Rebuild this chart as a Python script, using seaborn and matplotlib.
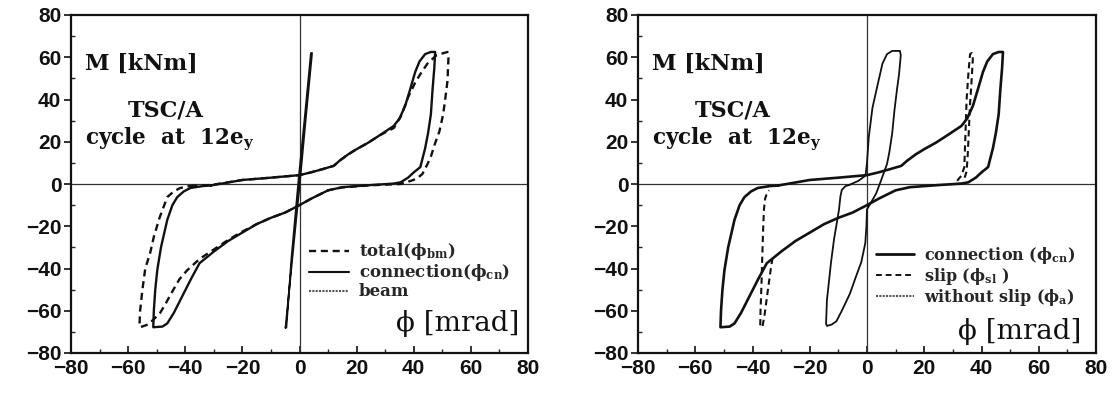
import numpy as np
import pandas as pd
import matplotlib
matplotlib.use("Agg")
import matplotlib.pyplot as plt
from matplotlib.lines import Line2D
import seaborn as sns

# ---- moment-rotation hysteresis, TSC/A, cycle at 12 e_y ----
# connection rotation phi_cn [mrad] vs moment M [kNm]
conn_phi = [-31, -20, -10, 0, 4, 8, 12, 14, 17, 20, 24, 28, 33, 35, 37, 39, 40.5, 42, 44, 46, 47.5,
            47.2, 46.6, 46, 45, 44, 42.3, 40, 38, 35.4, 33, 25, 15, 10, 4, 0, -5, -10, -15, -20,
            -25, -30, -35, -38, -41, -44, -46.3, -48, -51.2,
            -51, -50.5, -49.8, -48.5, -46.3, -44.5, -42.8, -40.5, -38.2, -34, -31]
conn_m = [-0.7, 1.9, 3.0, 4.2, 5.5, 7.0, 8.6, 11, 14, 16.5, 19.5, 23, 27.5, 31, 37, 46, 53, 58, 61.5, 62.5, 62.5,
          55, 45, 33, 24, 17, 8, 5.5, 3, 0.8, 0.2, -0.5, -1.5, -3, -7, -10, -13.5, -16, -19, -23,
          -27, -32, -37.5, -45, -53, -61, -66, -67.5, -67.8,
          -60, -50, -40.8, -30, -17, -10, -6.2, -3.5, -1.9, -1.0, -0.7]

# total beam-end rotation phi_bm
total_phi = [-38.2, -31, -20, -10, 0, 4, 8, 12, 14, 17, 20, 24, 28, 33, 35.5, 38, 40.5, 42.3, 44.8, 48, 51.8,
             52.2, 52, 51.8, 51, 50.3, 49, 47.4, 46, 44.8, 43, 41, 39.2, 35.4, 25, 15, 10, 4, 0, -5, -10,
             -15, -20, -25, -30, -35, -39.3, -42, -45, -47, -48.8, -51, -53, -55.8,
             -56, -55.8, -55, -54, -52.3, -51, -49, -46.3, -44, -41.8, -38.2]
total_m = [-0.9, -0.5, 1.9, 3.0, 4.2, 5.5, 7.0, 8.6, 11, 14, 16.5, 19.5, 23, 26.5, 32, 41, 48, 52, 57, 61, 62.5,
           61, 55, 48.7, 40, 33, 25, 19, 13, 9.4, 4.7, 2.5, 1.6, 0, -0.6, -1.6, -3, -7, -10, -13.5, -16,
           -19, -22.5, -26.5, -31, -35.5, -40.8, -45, -52, -57, -61, -64, -66.5, -67.8,
           -66, -60, -50, -40, -32.7, -25, -16, -6.2, -3.5, -1.9, -0.9]

# beam rotation
beam_phi = [-4.9, -2.5, 0.0, 2.2, 4.4, 4.0, 1.8, -0.4, -2.8, -4.6, -4.9]
beam_m = [-68, -35, -1, 31, 62, 62, 31, 1, -35, -68, -68]

# slip rotation phi_sl (two visible branches)
slip_phi = [31.5, 33, 34, 34.3, 34.8, 35.4, 36, 36.6, 37, 36.5, 36, 35.6, 35.2, 34.8, 34,
            -33, -33.8, -34.8, -35.8, -36.5, -37.3, -37.2, -36.8, -36.6, -36.3, -36, -35.6, -35, -34.2]
slip_m = [1.5, 4, 8, 20, 40, 52, 61.5, 62, 60, 48, 38, 26, 14, 6, 2.5,
          -35, -42, -52, -62, -67.5, -67.5, -60, -45, -35, -22, -12, -7, -4.5, -3]
slip_seg = [0] * 15 + [1] * 14

# rotation without slip phi_a
ws_phi = [-6.3, -3, -0.5, 0, 0.6, 1.9, 3.8, 5.4, 7, 8.8, 11.5,
          11.8, 11.2, 10.5, 9.6, 8.8, 7.8, 7, 5, 3.2, 1.3, 0, -0.2, -0.6, -2, -3.9, -6, -8.8, -10.7, -12.3, -14,
          -14.3, -14, -13.2, -12.6, -11.5, -10.5, -9.8, -9.3, -8.8, -7.5, -6.3]
ws_m = [-0.5, 1.5, 4, 10, 22, 36, 47.5, 57, 61.5, 63, 63,
        61, 52, 45, 35, 24, 15, 9.5, 2, -4.5, -9, -12, -20, -28, -37, -44, -52, -60, -65, -66.5, -67.2,
        -66, -55, -45, -37.4, -26, -18, -12.3, -6, -2.8, -1, -0.5]

ticks_major = list(range(-80, 81, 20))
ticks_minor = list(range(-80, 81, 10))

sns.set_style("ticks")
plt.rcParams["font.family"] = ["Liberation Sans", "DejaVu Sans"]
plt.rcParams["mathtext.fontset"] = "dejavuserif"
plt.rcParams["axes.linewidth"] = 1.6

SERIF = "DejaVu Serif"
INK = "#111111"

fig = plt.figure(figsize=(11.2, 3.96), dpi=100)
axL = fig.add_axes([71 / 1120, 1 - 353 / 396, 457 / 1120, 338 / 396])
axR = fig.add_axes([638 / 1120, 1 - 353 / 396, 458 / 1120, 338 / 396])


def curve(ax, phi, m, lw, ls="-", color=INK, seg=None):
    df = pd.DataFrame({"phi": phi, "M": m})
    df["seg"] = seg if seg is not None else 0
    sns.lineplot(data=df, x="phi", y="M", units="seg", estimator=None, sort=False,
                 ax=ax, color=color, lw=lw, linestyle=ls, legend=False)


def frame(ax):
    ax.set_xlim(-80, 80)
    ax.set_ylim(-80, 80)
    ax.axhline(0, color="#333333", lw=0.9, zorder=1)
    ax.axvline(0, color="#333333", lw=0.9, zorder=1)
    ax.set_xticks(ticks_major)
    ax.set_xticks(ticks_minor, minor=True)
    ax.set_yticks(ticks_major)
    ax.set_yticks(ticks_minor, minor=True)
    ax.tick_params(axis="x", which="major", direction="in", length=5, width=1.2,
                   labelsize=15, pad=4, colors=INK)
    ax.tick_params(axis="x", which="minor", direction="in", length=3, width=1.0)
    ax.tick_params(axis="y", which="major", direction="out", length=5, width=1.2,
                   labelsize=15, pad=2, colors=INK)
    ax.tick_params(axis="y", which="minor", direction="in", length=3, width=1.0)
    for lab in ax.get_xticklabels() + ax.get_yticklabels():
        lab.set_fontweight("bold")
    ax.set_xlabel("")
    ax.set_ylabel("")
    for s in ax.spines.values():
        s.set_color(INK)
    ax.text(-75, 57, "M [kNm]", family=SERIF, fontweight="bold", fontsize=16,
            va="center", ha="left", color=INK)
    ax.text(-47, 35, "TSC/A", family=SERIF, fontweight="bold", fontsize=16,
            va="center", ha="center", color=INK)
    ax.text(-75, 21, r"cycle  at  12e$_{\mathbf{y}}$", family=SERIF, fontweight="bold",
            fontsize=15.5, va="center", ha="left", color=INK)


# left panel: total, connection and beam rotations
curve(axL, total_phi, total_m, lw=1.7, ls=(0, (3, 2)))
curve(axL, conn_phi, conn_m, lw=1.7)
curve(axL, beam_phi, beam_m, lw=1.3)
frame(axL)
axL.text(77, -66, "ϕ [mrad]", family=SERIF, fontsize=20, ha="right", va="center", color=INK)

hL = [Line2D([], [], color=INK, lw=1.7, ls=(0, (3, 2))),
      Line2D([], [], color=INK, lw=1.5),
      Line2D([], [], color="#555555", lw=1.5, ls=(0, (1, 0.6)))]
lab_L = [r"total(ϕ$_{\mathbf{bm}}$)", r"connection(ϕ$_{\mathbf{cn}}$)", "beam"]
axL.legend(hL, lab_L, loc="upper left", bbox_to_anchor=(0.52, 0.33), frameon=False,
           prop={"family": SERIF, "weight": "bold", "size": 12},
           handlelength=2.4, handletextpad=0.6, labelspacing=0.0, borderpad=0, borderaxespad=0)

# right panel: connection split into slip and rotation without slip
curve(axR, conn_phi, conn_m, lw=1.9)
curve(axR, slip_phi, slip_m, lw=1.5, ls=(0, (3, 2)), seg=slip_seg)
curve(axR, ws_phi, ws_m, lw=1.3)
frame(axR)
axR.text(75, -70, "ϕ [mrad]", family=SERIF, fontsize=20, ha="right", va="center", color=INK)

hR = [Line2D([], [], color=INK, lw=2.0),
      Line2D([], [], color=INK, lw=1.4, ls=(0, (3, 2))),
      Line2D([], [], color="#555555", lw=1.5, ls=(0, (1, 0.6)))]
lab_R = [r"connection (ϕ$_{\mathbf{cn}}$)", r"slip (ϕ$_{\mathbf{sl}}$ )",
         r"without slip (ϕ$_{\mathbf{a}}$)"]
axR.legend(hR, lab_R, loc="upper left", bbox_to_anchor=(0.52, 0.32), frameon=False,
           prop={"family": SERIF, "weight": "bold", "size": 11.5},
           handlelength=2.4, handletextpad=0.6, labelspacing=0.0, borderpad=0, borderaxespad=0)

fig.savefig("out.png", dpi=100, facecolor="white")
